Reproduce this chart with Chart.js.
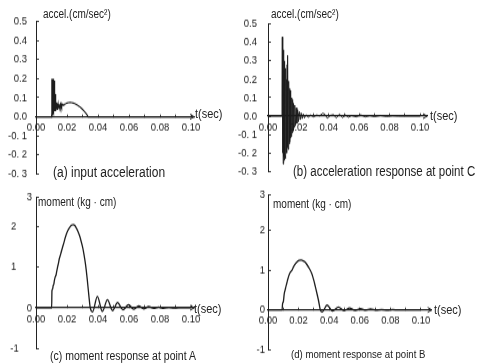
<!DOCTYPE html>
<html>
<head>
<meta charset="utf-8">
<script src="https://cdn.jsdelivr.net/npm/chart.js@4.4.1/dist/chart.umd.min.js"></script>
<style>
  html, body { margin: 0; padding: 0; background: #fff; }
  body { width: 478px; height: 364px; overflow: hidden; position: relative; }
  /* the scanned figure is taller than it is wide, so the whole sheet is stretched a bit */
  #fig { position: absolute; left: 0; top: 0; width: 478px; height: 298px;
         transform: scaleY(1.2215); transform-origin: 0 0;
         font-family: "Liberation Sans", Arial, Helvetica, sans-serif; color: #222; }
  #fig canvas { position: absolute; }
  .lbl { position: absolute; white-space: nowrap; line-height: 1; }
  .ylab { font-size: 10px; }
  .tlab { font-size: 11px; }
</style>
</head>
<body>
<div id="fig">
  <canvas id="chartA" width="240" height="160" style="left:0;top:0"></canvas>
  <canvas id="chartB" width="246" height="160" style="left:232px;top:0"></canvas>
  <canvas id="chartC" width="240" height="150" style="left:0;top:148px"></canvas>
  <canvas id="chartD" width="246" height="150" style="left:232px;top:148px"></canvas>

  <div class="lbl ylab" style="left:43px;top:6.5px">accel.(cm/sec²)</div>
  <div class="lbl ylab" style="left:271px;top:6.5px">accel.(cm/sec²)</div>
  <div class="lbl ylab" style="left:38px;top:161.2px">moment (kg · cm)</div>
  <div class="lbl ylab" style="left:273px;top:162px">moment (kg · cm)</div>

  <div class="lbl tlab" style="left:195px;top:87.8px">t(sec)</div>
  <div class="lbl tlab" style="left:430px;top:88.6px">t(sec)</div>
  <div class="lbl tlab" style="left:194px;top:246.7px">t(sec)</div>
  <div class="lbl tlab" style="left:434px;top:248.3px">t(sec)</div>

  <div class="lbl" style="left:53px;top:134.8px;font-size:12px">(a) input acceleration</div>
  <div class="lbl" style="left:293px;top:135px;font-size:11.5px">(b) acceleration response at point C</div>
  <div class="lbl" style="left:50px;top:285.7px;font-size:10.5px">(c) moment response at point A</div>
  <div class="lbl" style="left:291px;top:285.2px;font-size:9.6px">(d) moment response at point B</div>
</div>

<script>
// ---- data ----
var xTickLabels = ['0.00', '0.02', '0.04', '0.06', '0.08', '0.10'];
var accTickLabels = ['-0. 3', '-0. 2', '-0. 1', '0.0', '0.1', '0.2', '0.3', '0.4', '0.5'];
var momentTickLabels = ['-1', '0', '1', '2', '3'];

// (a) input acceleration
var tAccIn = [
  0, 0.0101, 0.0102, 0.0104, 0.0105, 0.0107, 0.0108, 0.0110, 0.0111, 0.0113,
  0.0114, 0.0116, 0.0117, 0.0119, 0.0120, 0.0122, 0.0123, 0.0125, 0.0127, 0.0129,
  0.0131, 0.0133, 0.0135, 0.0137, 0.0139, 0.0141, 0.0143, 0.0145, 0.0147, 0.0149,
  0.0151, 0.0154, 0.0157, 0.0160, 0.0163, 0.0166, 0.0170, 0.0175, 0.0180, 0.0190,
  0.0200, 0.0210, 0.0220, 0.0230, 0.0240, 0.0250, 0.0260, 0.0270, 0.0280, 0.0290,
  0.0300, 0.0310, 0.0320, 0.0330, 0.0336, 0.1000
];
var accIn = [
  0, 0, 0.20, 0.01, 0.19, 0.02, 0.20, 0.03, 0.17, 0.02,
  0.20, 0.04, 0.16, 0.03, 0.19, 0.04, 0.12, 0.03, 0.09, 0.035,
  0.075, 0.040, 0.070, 0.040, 0.068, 0.042, 0.066, 0.045, 0.065, 0.047,
  0.064, 0.050, 0.066, 0.052, 0.066, 0.055, 0.066, 0.060, 0.065, 0.068,
  0.072, 0.074, 0.075, 0.074, 0.072, 0.069, 0.065, 0.060, 0.054, 0.047,
  0.039, 0.030, 0.020, 0.009, 0, 0
];

// (b) acceleration response at point C
var tAccC = [
  0, 0.0090, 0.0092, 0.0094, 0.0096, 0.0098, 0.0100, 0.0102, 0.0104, 0.0106,
  0.0108, 0.0110, 0.0112, 0.0114, 0.0116, 0.0118, 0.0120, 0.0122, 0.0124, 0.0126,
  0.0128, 0.0130, 0.0132, 0.0134, 0.0136, 0.0138, 0.0140, 0.0142, 0.0144, 0.0146,
  0.0148, 0.0150, 0.0153, 0.0156, 0.0159, 0.0162, 0.0165, 0.0168, 0.0172, 0.0176,
  0.0180, 0.0185, 0.0190, 0.0195, 0.0200, 0.0206, 0.0212, 0.0218, 0.0225, 0.0232,
  0.0240, 0.0250, 0.0265, 0.0280, 0.0300, 0.0320, 0.0340, 0.0360, 0.0375, 0.0390,
  0.0410, 0.0430, 0.0450, 0.0470, 0.0490, 0.0510, 0.0530, 0.0550, 0.0580, 0.0610,
  0.0640, 0.0670, 0.0700, 0.0740, 0.0780, 0.0820, 0.0860, 0.1000
];
var accC = [
  0, 0, 0.12, 0.43, -0.20, 0.28, -0.26, 0.36, -0.22, 0.25,
  -0.24, 0.30, -0.21, 0.22, -0.23, 0.26, -0.19, 0.20, -0.20, 0.28,
  -0.17, 0.33, -0.18, 0.17, -0.16, 0.19, -0.15, 0.15, -0.14, 0.14,
  -0.12, 0.12, -0.11, 0.10, -0.09, 0.09, -0.08, 0.07, -0.06, 0.06,
  -0.05, 0.045, -0.04, 0.035, -0.03, 0.025, -0.02, 0.018, -0.014, 0.012,
  -0.01, 0.008, -0.006, 0.006, -0.004, 0.006, 0.002, 0.016, 0.010, -0.012,
  0.004, 0.008, -0.010, 0.012, -0.008, 0.006, -0.006, 0.004, -0.004, 0.007,
  -0.004, 0.003, -0.003, 0.004, -0.002, 0.002, 0, 0
];

// (c) moment response at point A
var tMomA = [
  0, 0.0101, 0.0103, 0.0107, 0.0111, 0.0115, 0.0119, 0.0124, 0.0129, 0.0134,
  0.0139, 0.0145, 0.0150, 0.0160, 0.0170, 0.0180, 0.0190, 0.0200, 0.0210, 0.0220,
  0.0230, 0.0240, 0.0250, 0.0260, 0.0270, 0.0280, 0.0290, 0.0300, 0.0310, 0.0320,
  0.0330, 0.0340, 0.0350, 0.0365, 0.0396, 0.0428, 0.0461, 0.0494, 0.0526, 0.0561,
  0.0597, 0.0630, 0.0662, 0.0695, 0.0727, 0.0760, 0.0790, 0.0823, 0.0857, 0.0890,
  0.0920, 0.1000
];
var momA = [
  0, 0, 0.42, 0.46, 0.55, 0.58, 0.68, 0.76, 0.80, 0.90,
  1.00, 1.10, 1.20, 1.33, 1.47, 1.60, 1.74, 1.85, 1.93, 1.99,
  2.03, 2.04, 2.02, 1.96, 1.88, 1.78, 1.65, 1.50, 1.30, 1.05,
  0.72, 0.34, 0, -0.10, 0.28, -0.09, 0.20, -0.07, 0.13, -0.05,
  0.08, -0.035, 0.05, -0.025, 0.03, -0.015, 0.02, -0.01, 0.012, -0.005,
  0, 0
];

// (d) moment response at point B
var tMomB = [
  0, 0.0092, 0.0095, 0.0101, 0.0106, 0.0112, 0.0118, 0.0123, 0.0130, 0.0138,
  0.0147, 0.0156, 0.0167, 0.0178, 0.0189, 0.0203, 0.0217, 0.0230, 0.0242, 0.0254,
  0.0270, 0.0287, 0.0298, 0.0309, 0.0320, 0.0331, 0.0342, 0.0355, 0.0386, 0.0422,
  0.0460, 0.0497, 0.0533, 0.0570, 0.0605, 0.0640, 0.0670, 0.0705, 0.0743, 0.0780,
  0.0816, 0.0850, 0.1000
];
var momB = [
  0, 0, 0.15, 0.22, 0.40, 0.50, 0.60, 0.67, 0.78, 0.88,
  0.95, 0.99, 1.08, 1.15, 1.20, 1.24, 1.25, 1.23, 1.20, 1.14,
  1.04, 0.90, 0.76, 0.59, 0.41, 0.22, 0, -0.05, 0.12, -0.03,
  0.07, -0.02, 0.045, -0.012, 0.03, -0.008, 0.02, -0.005, 0.012, -0.003,
  0.008, 0, 0
];

// ---- drawing ----
Chart.defaults.font.family = '"Liberation Sans", Arial, Helvetica, sans-serif';
Chart.defaults.font.size = 9.5;
Chart.defaults.color = '#222';

function points(ts, vs) {
  return ts.map(function(t, i) { return { x: t, y: vs[i] }; });
}

// small arrow head at the end of the time axis
var axisArrow = {
  id: 'axisArrow',
  afterDraw: function(chart) {
    var ctx = chart.ctx, a = chart.chartArea;
    var y0 = chart.scales.y.getPixelForValue(0);
    ctx.save();
    ctx.strokeStyle = '#222';
    ctx.lineWidth = 1;
    ctx.beginPath();
    ctx.moveTo(a.right - 4, y0 - 2);
    ctx.lineTo(a.right, y0);
    ctx.lineTo(a.right - 4, y0 + 2);
    ctx.stroke();
    ctx.restore();
  }
};

// box = canvas position, area = wanted plot area (both in sheet px)
function makePanel(id, box, area, o) {
  var yTicks = o.yTicks;
  return new Chart(document.getElementById(id), {
    type: 'line',
    data: {
      datasets: [{
        data: points(o.t, o.v),
        borderColor: '#1c1c1c',
        borderWidth: o.lw,
        pointRadius: 0,
        tension: 0,
        cubicInterpolationMode: o.smooth ? 'monotone' : 'default'
      }]
    },
    options: {
      responsive: false,
      animation: false,
      events: [],
      layout: {
        padding: {
          left: 0,
          top: area.top - box.top,
          right: box.left + box.width - area.right,
          bottom: box.top + box.height - area.bottom
        }
      },
      plugins: { legend: { display: false }, tooltip: { enabled: false } },
      scales: {
        x: {
          type: 'linear',
          position: { y: 0 },
          min: 0,
          max: o.xMax,
          afterBuildTicks: function(s) {
            var ticks = [];
            for (var i = 0; i <= 10; i++) ticks.push({ value: i / 100 });
            s.ticks = ticks;
          },
          ticks: {
            autoSkip: false,
            maxRotation: 0,
            padding: 6,
            callback: function(v, i) { return i % 2 === 0 ? xTickLabels[i / 2] : ''; }
          },
          grid: { display: true, drawOnChartArea: false, tickLength: -2.5, color: '#444' },
          border: { display: true, color: '#222', width: 1.2 }
        },
        y: {
          type: 'linear',
          min: yTicks[0],
          max: yTicks[yTicks.length - 1],
          afterFit: function(s) { s.width = area.left - box.left; },
          afterBuildTicks: function(s) {
            s.ticks = yTicks.map(function(v) { return { value: v }; });
          },
          ticks: {
            padding: o.yGap,
            callback: function(v, i) {
              return o.yLabels[i] + '\u00a0'.repeat(o.yPad ? o.yPad[i] : 0);
            }
          },
          grid: { display: true, drawOnChartArea: false, tickLength: -3, color: '#444' },
          border: { display: true, color: '#222', width: 1 }
        }
      }
    },
    plugins: [axisArrow]
  });
}

var S = 1.2215;   // vertical stretch of the sheet
var accTicks = [-0.3, -0.2, -0.1, 0, 0.1, 0.2, 0.3, 0.4, 0.5];

makePanel('chartA', { left: 0, top: 0, width: 240, height: 160 },
  { left: 36, right: 194.1, top: 15 / S, bottom: 176 / S },
  { t: tAccIn, v: accIn, lw: 1.1, xMax: 0.102, yTicks: accTicks, yLabels: accTickLabels, yGap: 12 });

makePanel('chartB', { left: 232, top: 0, width: 246, height: 160 },
  { left: 268, right: 427, top: 15 / S, bottom: 176 / S },
  { t: tAccC, v: accC, lw: 0.9, xMax: 0.1046, yTicks: accTicks, yLabels: accTickLabels, yGap: 14 });

makePanel('chartC', { left: 0, top: 148, width: 240, height: 150 },
  { left: 36, right: 194.1, top: 197 / S, bottom: 350.5 / S },
  { t: tMomA, v: momA, lw: 1.3, smooth: true, xMax: 0.102, yTicks: [-1, 0, 1, 2, 2.72],
    yLabels: momentTickLabels, yPad: [5, 0, 6, 6, 0], yGap: 7 });

makePanel('chartD', { left: 232, top: 148, width: 246, height: 150 },
  { left: 268, right: 431.7, top: 192 / S, bottom: 352 / S },
  { t: tMomB, v: momB, lw: 1.3, smooth: true, xMax: 0.107, yTicks: [-1, 0, 1, 2, 2.88],
    yLabels: momentTickLabels, yGap: 6 });
</script>
</body>
</html>
